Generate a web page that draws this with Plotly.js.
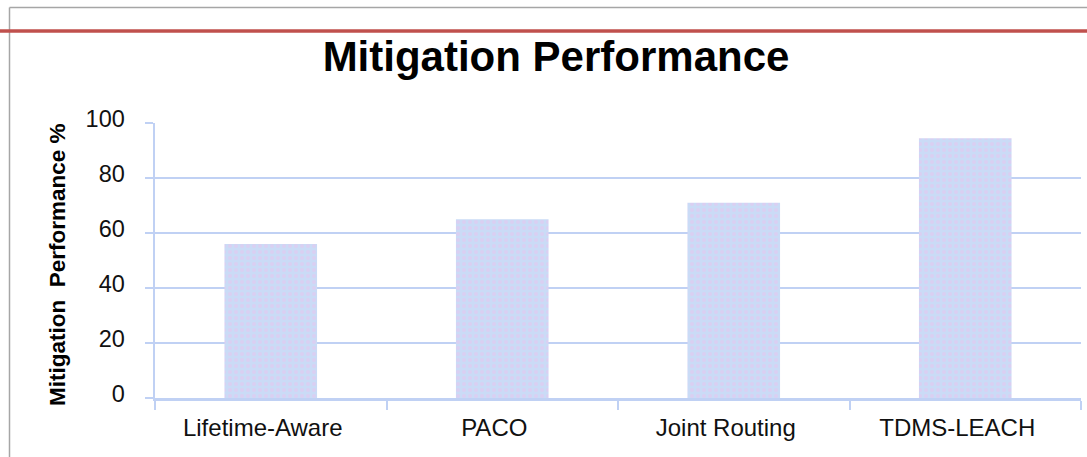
<!DOCTYPE html>
<html>
<head>
<meta charset="utf-8">
<script src="https://cdn.plot.ly/plotly-3.0.1.min.js"></script>
<style>
  html, body { margin: 0; padding: 0; background: #fff; }
  #chart { width: 1087px; height: 457px; }
</style>
</head>
<body>
<div id="chart"></div>
<script>
// ---- data ----
const categories = ["Lifetime-Aware", "PACO", "Joint Routing", "TDMS-LEACH"];
const mitigationValues = [56, 65, 71, 94.5];
const yTickValues = [0, 20, 40, 60, 80, 100];
const chartTitle = "Mitigation Performance";
const yAxisTitle = "Mitigation  Performance %";

// ---- layout helpers (pixel -> paper) ----
const W = 1087, H = 457;
const M = { l: 155, r: 6, t: 123, b: 59 };
const PW = W - M.l - M.r, PH = H - M.t - M.b;
const px = x => (x - M.l) / PW;
const py = y => (H - M.b - y) / PH;

const FONT = "Liberation Sans, Arial, sans-serif";
const GRID = "#c0d1f4";

const trace = {
  type: "bar",
  x: categories,
  y: mitigationValues,
  marker: {
    color: "#cadbf6",
    line: { width: 0 },
    pattern: { shape: ".", bgcolor: "#cadbf6", fgcolor: "#dacff2", size: 6, solidity: 0.35, fillmode: "replace" }
  },
  hoverinfo: "x+y"
};

const layout = {
  width: W, height: H,
  margin: M,
  paper_bgcolor: "#ffffff",
  plot_bgcolor: "#ffffff",
  showlegend: false,
  bargap: 0.6,
  font: { family: FONT, color: "#111111", size: 23 },
  title: {
    text: "<b>" + chartTitle + "</b>",
    font: { family: FONT, size: 42, color: "#000000" },
    xref: "container", yref: "container",
    x: 556 / W, xanchor: "center",
    y: 1 - 56 / H, yanchor: "middle"
  },
  xaxis: {
    type: "category",
    showgrid: false,
    showline: true, linecolor: GRID, linewidth: 2.5,
    ticks: "outside", tickson: "boundaries", ticklen: 9, tickcolor: GRID, tickwidth: 2,
    ticklabelstandoff: 7,
    ticklabelshift: -8,
    tickfont: { family: FONT, size: 24, color: "#111111" },
    zeroline: false,
    fixedrange: true
  },
  yaxis: {
    range: [0, 100],
    tickvals: yTickValues,
    showgrid: true, gridcolor: GRID, gridwidth: 2.5,
    showline: true, linecolor: GRID, linewidth: 2.5,
    ticks: "outside", ticklen: 8, tickcolor: GRID, tickwidth: 2.5,
    ticklabelstandoff: 15,
    ticklabelshift: -4,
    tickfont: { family: FONT, size: 23.5, color: "#111111" },
    zeroline: false,
    fixedrange: true
  },
  annotations: [{
    text: "<b>" + yAxisTitle + "</b>",
    textangle: -90,
    xref: "paper", yref: "paper",
    x: px(57), y: py(265),
    xanchor: "center", yanchor: "middle",
    showarrow: false,
    font: { family: FONT, size: 22.5, color: "#000000" }
  }],
  shapes: [
    // gray frame (left & top)
    { type: "line", xref: "paper", yref: "paper", x0: px(9.5), x1: px(9.5), y0: py(7.5), y1: py(460), line: { color: "#a6a6a6", width: 1.5 } },
    { type: "line", xref: "paper", yref: "paper", x0: px(9.5), x1: px(1090), y0: py(7.5), y1: py(7.5), line: { color: "#a6a6a6", width: 1.5 } },
    // red rule
    { type: "line", xref: "paper", yref: "paper", x0: px(-2), x1: px(1090), y0: py(31), y1: py(31), line: { color: "#c0504d", width: 3.5 } }
  ]
};

Plotly.newPlot("chart", [trace], layout, { displayModeBar: false, staticPlot: true });
</script>
</body>
</html>
